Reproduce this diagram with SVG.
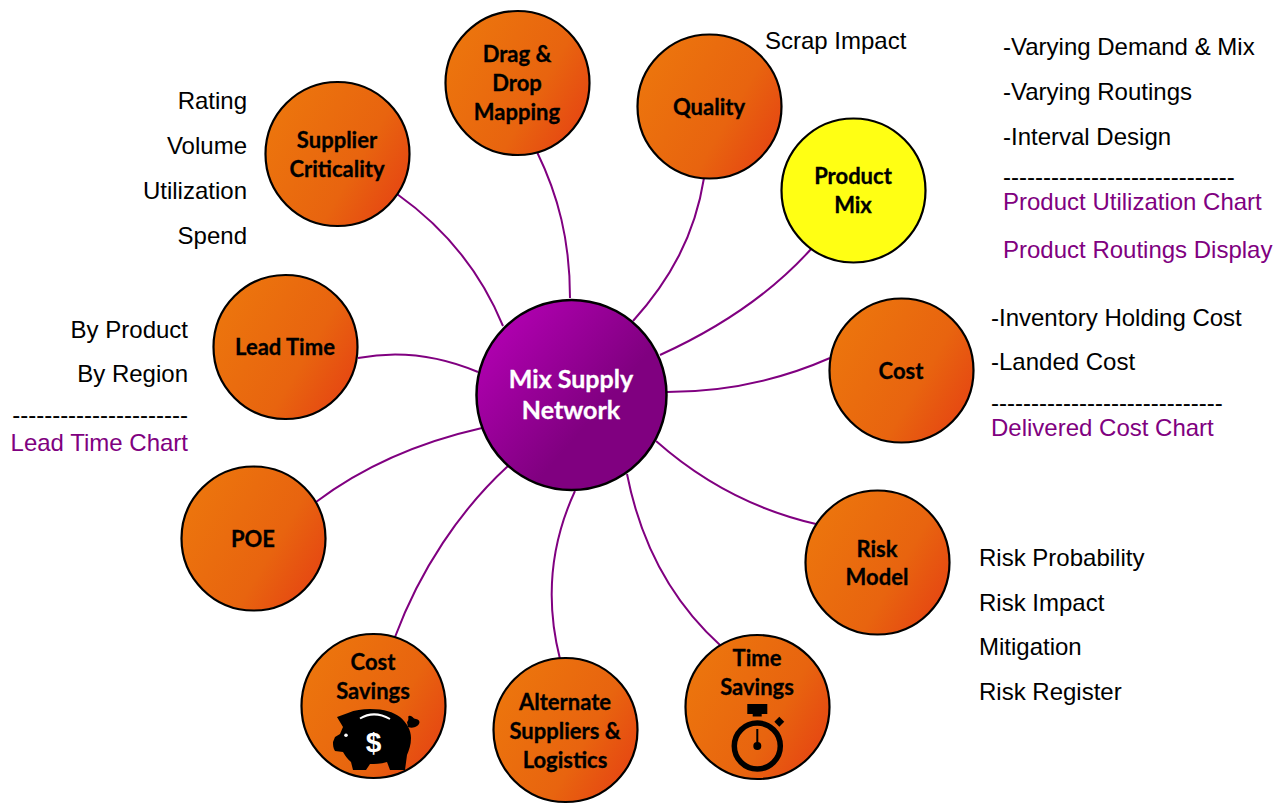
<svg xmlns="http://www.w3.org/2000/svg" width="1283" height="804" viewBox="0 0 1283 804">
<style>
.n{stroke:#000;stroke-width:2.2;fill:url(#o)}
.l{font:700 22px Lato,"Open Sans",sans-serif;fill:#000;stroke:#000;stroke-width:0.3;text-anchor:middle}
.w{fill:#fff;stroke:#fff;font-size:25px}
.t{font:24px "Liberation Sans",Arial,sans-serif;fill:#000}
.p{fill:#800080}
.e{text-anchor:end}
#connectors path{fill:none;stroke:#800080;stroke-width:2}
</style>
<defs>
<linearGradient id="o" x1="0.05" y1="0.3" x2="0.9" y2="0.8"><stop offset="0" stop-color="#ec740d"/><stop offset="0.65" stop-color="#e8640f"/><stop offset="1" stop-color="#e64a12"/></linearGradient>
<linearGradient id="m" x1="0.1" y1="0.15" x2="0.85" y2="0.8"><stop offset="0" stop-color="#b000b0"/><stop offset="0.7" stop-color="#800080"/></linearGradient>
</defs>
<rect width="1283" height="804" fill="#fff"/>
<g id="connectors">
<path d="M397 194C445 228 480 270 503 326"/>
<path d="M537 152C558 195 570 240 570 298"/>
<path d="M704 178C695 235 670 280 633 321"/>
<path d="M812 248C770 295 715 330 660 355"/>
<path d="M830 358C780 380 725 392 667 392"/>
<path d="M816 524C755 510 700 480 656 441"/>
<path d="M721 646C670 600 640 540 627 474"/>
<path d="M560 659C545 600 550 545 575 491"/>
<path d="M395 637C420 570 460 510 508 466"/>
<path d="M316 502C365 465 420 442 482 428"/>
<path d="M358 358C400 350 440 356 478 372"/>
</g>
<g id="hub"><circle cx="571.500" cy="395" r="95" stroke="#000" stroke-width="2.500" fill="url(#m)"/><text class="l w" x="571" y="388">Mix Supply</text><text class="l w" x="571" y="419">Network</text></g>
<g id="supplier"><circle class="n" cx="337.500" cy="154" r="72"/><text class="l" x="337" y="148">Supplier</text><text class="l" x="337" y="177">Criticality</text></g>
<g id="drag"><circle class="n" cx="517.500" cy="83" r="72"/><text class="l" x="517" y="62">Drag &amp;</text><text class="l" x="517" y="91">Drop</text><text class="l" x="517" y="120">Mapping</text></g>
<g id="quality"><circle class="n" cx="709.500" cy="106.500" r="72"/><text class="l" x="709" y="115">Quality</text></g>
<g id="product"><circle cx="853.500" cy="190.500" r="72" stroke="#000" stroke-width="2.200" fill="#ffff14"/><text class="l" x="853" y="184">Product</text><text class="l" x="853" y="213">Mix</text></g>
<g id="cost"><circle class="n" cx="901.500" cy="370.500" r="72"/><text class="l" x="901" y="379">Cost</text></g>
<g id="risk"><circle class="n" cx="877.500" cy="562.500" r="72"/><text class="l" x="877" y="557">Risk</text><text class="l" x="877" y="585">Model</text></g>
<g id="time"><circle class="n" cx="757.500" cy="707" r="72"/><text class="l" x="757" y="666">Time</text><text class="l" x="757" y="695">Savings</text>
<rect x="747.300" y="704" width="20" height="10"/><rect x="752.700" y="713" width="9" height="3.500"/><circle cx="757.300" cy="746" r="23" fill="none" stroke="#000" stroke-width="5.500"/><circle cx="757.300" cy="746" r="4"/><rect x="756.300" y="729" width="2" height="16"/><rect x="775.800" y="718.200" width="7" height="7" transform="rotate(45 779.300 721.700)"/></g>
<g id="alt"><circle class="n" cx="565.500" cy="730" r="72"/><text class="l" x="565" y="710">Alternate</text><text class="l" x="565" y="739">Suppliers &amp;</text><text class="l" x="565" y="768">Logistics</text></g>
<g id="savings"><circle class="n" cx="373.500" cy="706" r="72"/><text class="l" x="373" y="670">Cost</text><text class="l" x="373" y="699">Savings</text>
<path d="M337 717L348 713C355 710 362 709 370 709C385 709 393 712 400 717C407 723 411 730 411 738C411 745 409 750 407 755L405 770H390L387 762C380 764 375 764 370 764L366 770H353L351 762C347 759 345 755 343 752L335 751C333 748 333 745 333 742L335 737L340 734L343 727Z"/>
<path d="M407 722C410 719 407 716 409 716C412 715 413 719 416 719C421 720 420 724 417 726C414 728 411 728 408 727Z"/>
<circle cx="346" cy="735.300" r="1.800" fill="#fff"/><path d="M360 718.500Q374 710 390 719" fill="none" stroke="#fff" stroke-width="2"/><text x="373.500" y="752" text-anchor="middle" style="font:700 28px 'Liberation Sans',sans-serif;fill:#fff">$</text></g>
<g id="poe"><circle class="n" cx="253.500" cy="538.500" r="72"/><text class="l" x="253" y="547">POE</text></g>
<g id="lead"><circle class="n" cx="285.500" cy="347" r="72"/><text class="l" x="285" y="355">Lead Time</text></g>
<g id="labels">
<text class="t" x="765" y="49">Scrap Impact</text>
<text class="t" x="1003" y="55">-Varying Demand &amp; Mix</text>
<text class="t" x="1003" y="100">-Varying Routings</text>
<text class="t" x="1003" y="145">-Interval Design</text>
<text class="t" x="1003" y="185">-----------------------------</text>
<text class="t p" x="1003" y="210">Product Utilization Chart</text>
<text class="t p" x="1003" y="258">Product Routings Display</text>
<text class="t" x="991" y="326">-Inventory Holding Cost</text>
<text class="t" x="991" y="370">-Landed Cost</text>
<text class="t" x="991" y="411">-----------------------------</text>
<text class="t p" x="991" y="436">Delivered Cost Chart</text>
<text class="t" x="979" y="566">Risk Probability</text>
<text class="t" x="979" y="611">Risk Impact</text>
<text class="t" x="979" y="655">Mitigation</text>
<text class="t" x="979" y="700">Risk Register</text>
<text class="t e" x="247" y="109">Rating</text>
<text class="t e" x="247" y="154">Volume</text>
<text class="t e" x="247" y="199">Utilization</text>
<text class="t e" x="247" y="244">Spend</text>
<text class="t e" x="188" y="338">By Product</text>
<text class="t e" x="188" y="382">By Region</text>
<text class="t e" x="188" y="423">----------------------</text>
<text class="t p e" x="188" y="451">Lead Time Chart</text>
</g>
</svg>
